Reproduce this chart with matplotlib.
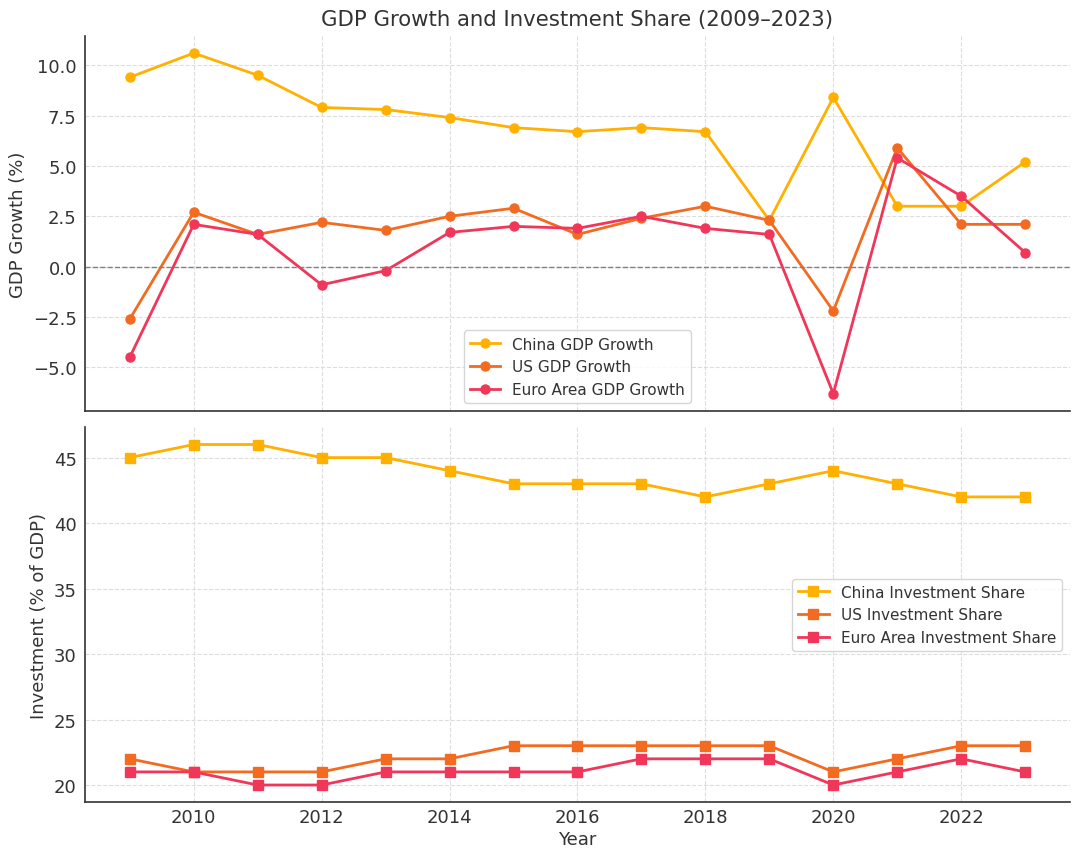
import matplotlib
matplotlib.use("Agg")
import matplotlib.pyplot as plt

years = list(range(2009, 2024))
china_gdp = [9.4, 10.6, 9.5, 7.9, 7.8, 7.4, 6.9, 6.7, 6.9, 6.7, 2.3, 8.4, 3.0, 3.0, 5.2]
us_gdp = [-2.6, 2.7, 1.6, 2.2, 1.8, 2.5, 2.9, 1.6, 2.4, 3.0, 2.3, -2.2, 5.9, 2.1, 2.1]
euro_gdp = [-4.5, 2.1, 1.6, -0.9, -0.2, 1.7, 2.0, 1.9, 2.5, 1.9, 1.6, -6.3, 5.4, 3.5, 0.7]
china_inv = [45, 46, 46, 45, 45, 44, 43, 43, 43, 42, 43, 44, 43, 42, 42]
us_inv = [22, 21, 21, 21, 22, 22, 23, 23, 23, 23, 23, 21, 22, 23, 23]
euro_inv = [21, 21, 20, 20, 21, 21, 21, 21, 22, 22, 22, 20, 21, 22, 21]

c_china = "#FFB000"
c_us = "#F26B21"
c_euro = "#F03659"
text_c = "#333333"

plt.rcParams.update({
    "font.family": "DejaVu Sans",
    "font.size": 13,
    "text.color": text_c,
    "axes.labelcolor": text_c,
    "xtick.color": text_c,
    "ytick.color": text_c,
})

fig, (ax1, ax2) = plt.subplots(2, 1, figsize=(10.8, 8.62), dpi=100, sharex=True)

ax1.plot(years, china_gdp, marker="o", color=c_china, lw=2, ms=6.5, label="China GDP Growth")
ax1.plot(years, us_gdp, marker="o", color=c_us, lw=2, ms=6.5, label="US GDP Growth")
ax1.plot(years, euro_gdp, marker="o", color=c_euro, lw=2, ms=6.5, label="Euro Area GDP Growth")
ax1.axhline(0, color="gray", lw=1, ls="--")
ax1.set_ylabel("GDP Growth (%)", fontsize=13)
ax1.set_title("GDP Growth and Investment Share (2009\u20132023)", fontsize=15.3, color=text_c, pad=8)
ax1.legend(loc="lower center", fontsize=11)

ax2.plot(years, china_inv, marker="s", color=c_china, lw=2, ms=6.5, label="China Investment Share")
ax2.plot(years, us_inv, marker="s", color=c_us, lw=2, ms=6.5, label="US Investment Share")
ax2.plot(years, euro_inv, marker="s", color=c_euro, lw=2, ms=6.5, label="Euro Area Investment Share")
ax2.set_ylabel("Investment (% of GDP)", fontsize=13)
ax2.set_xlabel("Year", fontsize=13, labelpad=3)
ax2.legend(loc="center right", fontsize=11)

for ax in (ax1, ax2):
    ax.grid(True, ls="--", color="#dddddd", lw=0.8)
    ax.set_axisbelow(True)
    for s in ("top", "right"):
        ax.spines[s].set_visible(False)
    for s in ("left", "bottom"):
        ax.spines[s].set_color(text_c)
        ax.spines[s].set_linewidth(1.2)
    ax.tick_params(axis="y", length=0, labelsize=13, pad=6)
    ax.tick_params(axis="x", length=0, labelsize=13, pad=4)

fig.subplots_adjust(left=0.0787, right=0.9907, top=0.957, bottom=0.0684, hspace=0.045)
fig.savefig("out.png", dpi=100)
